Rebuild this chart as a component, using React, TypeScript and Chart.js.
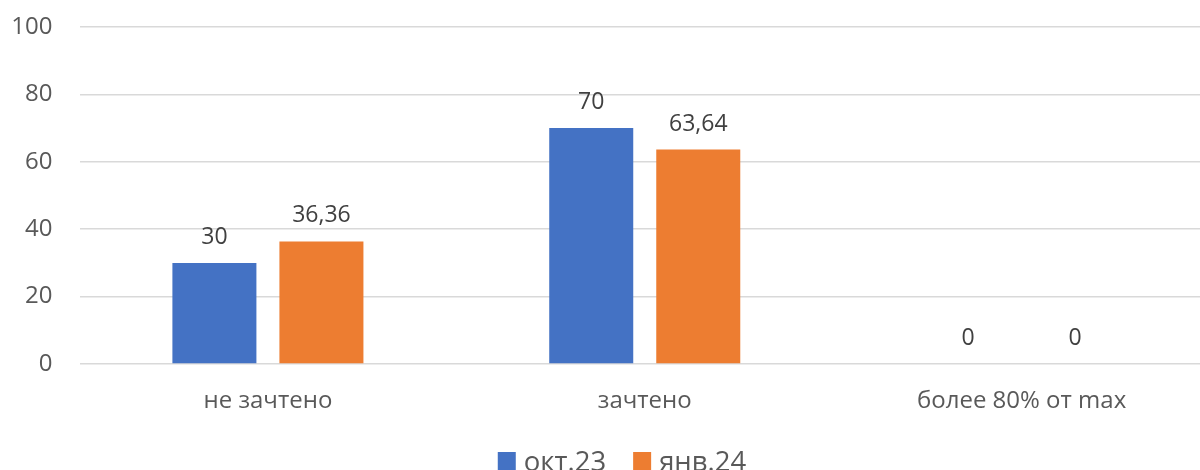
import React, { useEffect, useRef } from "react";
import { Chart, registerables } from "chart.js";

Chart.register(...registerables);

const categories = ["не зачтено", "зачтено", "более 80% от max"];
const seriesNames = ["окт.23", "янв.24"];
const octValues = [30, 70, 0];
const janValues = [36.36, 63.64, 0];
const seriesColors = ["#4472C4", "#ED7D31"];
const yTicks = [0, 20, 40, 60, 80, 100];

const FONT = '"Open Sans", "Noto Sans", sans-serif';

const fmt = (v: number) => String(v).replace(".", ",");

const dataLabelPlugin = {
  id: "dataLabels",
  afterDatasetsDraw(chart: any) {
    const ctx = chart.ctx;
    ctx.save();
    ctx.font = `23px ${FONT}`;
    ctx.fillStyle = "#404040";
    ctx.textAlign = "center";
    ctx.textBaseline = "alphabetic";
    chart.data.datasets.forEach((ds: any, i: number) => {
      const meta = chart.getDatasetMeta(i);
      meta.data.forEach((bar: any, j: number) => {
        const v = ds.data[j];
        ctx.fillText(fmt(v), bar.x, bar.y - 19);
      });
    });
    ctx.restore();
  },
};

const legendPlugin = {
  id: "customLegend",
  afterDraw(chart: any) {
    const ctx = chart.ctx;
    ctx.save();
    ctx.font = `27.5px ${FONT}`;
    ctx.textBaseline = "alphabetic";
    ctx.textAlign = "left";
    const box = 18;
    const gap = 8;
    const itemGap = 27;
    const widths = chart.data.datasets.map((ds: any) => ctx.measureText(ds.label).width);
    const total = widths.reduce((a: number, w: number) => a + box + gap + w, 0) + itemGap * (widths.length - 1);
    let x = 622 - total / 2;
    chart.data.datasets.forEach((ds: any, i: number) => {
      ctx.fillStyle = ds.backgroundColor;
      ctx.fillRect(x, 452, box, box);
      ctx.fillStyle = "#595959";
      ctx.fillText(ds.label, x + box + gap, 471);
      x += box + gap + widths[i] + itemGap;
    });
    ctx.restore();
  },
};

export default function App() {
  const ref = useRef<HTMLCanvasElement | null>(null);

  useEffect(() => {
    if (!ref.current) return;
    const chart = new Chart(ref.current, {
      type: "bar",
      data: {
        labels: categories,
        datasets: [
          {
            label: seriesNames[0],
            data: octValues,
            backgroundColor: seriesColors[0],
            categoryPercentage: 0.568,
            barPercentage: 0.785,
          },
          {
            label: seriesNames[1],
            data: janValues,
            backgroundColor: seriesColors[1],
            categoryPercentage: 0.568,
            barPercentage: 0.785,
          },
        ],
      },
      options: {
        animation: false,
        responsive: true,
        maintainAspectRatio: false,
        layout: { padding: { left: 0, top: 27, right: 2, bottom: 86 } },
        plugins: {
          legend: { display: false },
          tooltip: { enabled: false },
        },
        scales: {
          x: {
            grid: { display: false, drawTicks: false },
            border: { display: false },
            ticks: {
              font: { family: FONT, size: 24 },
              color: "#595959",
              padding: 23,
              maxRotation: 0,
            },
            afterFit: (s: any) => {
              s.height = 50;
            },
          },
          y: {
            min: 0,
            max: 100,
            grid: {
              color: "#d9d9d9",
              lineWidth: 1.5,
              drawTicks: true,
              tickLength: 27,
              tickColor: "rgba(0,0,0,0)",
            },
            border: { display: false },
            ticks: {
              stepSize: 20,
              font: { family: FONT, size: 24 },
              color: "#595959",
              padding: 0,
              callback: (v: any) => (yTicks.includes(Number(v)) ? String(v) : ""),
            },
            afterFit: (s: any) => {
              s.width = 79.5;
            },
          },
        },
      },
      plugins: [dataLabelPlugin, legendPlugin],
    });
    return () => chart.destroy();
  }, []);

  return (
    <div style={{ position: "fixed", left: 0, top: 0, width: 1200, height: 470, overflow: "hidden", background: "#fff" }}>
      <div style={{ position: "relative", width: 1212, height: 500 }}>
        <canvas ref={ref} />
      </div>
    </div>
  );
}
